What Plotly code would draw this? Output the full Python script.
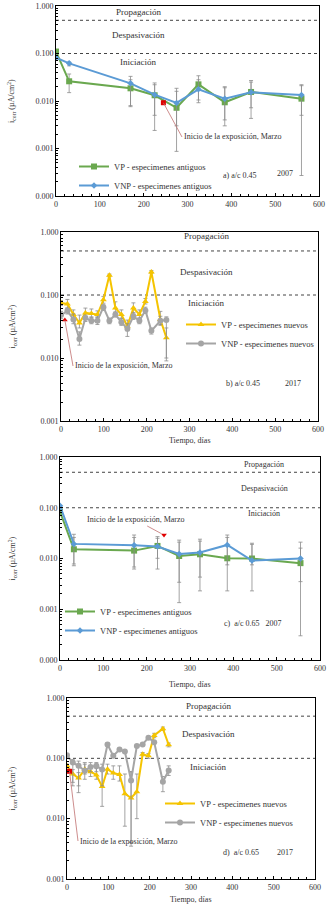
import plotly.graph_objects as go
import math

# ---------------- data ----------------
# Panel a) a/c 0.45 2007 (old specimens)
a_days = [0, 30, 170, 225, 275, 325, 385, 445, 560]
a_vp = [0.110, 0.026, 0.0185, 0.0132, 0.0072, 0.0224, 0.0094, 0.0155, 0.0112]
a_vp_hi = [0.110, 0.037, 0.033, 0.024, 0.0185, 0.034, 0.020, 0.027, 0.022]
a_vp_lo = [0.110, 0.015, 0.0076, 0.0024, 0.00087, 0.0092, 0.0030, 0.0043, 0.00027]
a_vnp = [0.082, 0.062, 0.0235, 0.0136, 0.0091, 0.0176, 0.0112, 0.0152, 0.0134]
a_vnp_hi = [0.082, 0.066, 0.028, 0.022, 0.016, 0.028, 0.019, 0.025, 0.021]
a_vnp_lo = [0.082, 0.055, 0.0080, 0.0050, 0.0030, 0.0105, 0.0040, 0.0072, 0.0050]
a_start = ([245], [0.0092])

# Panel b) a/c 0.45 2017 (new specimens)
b_days = [0, 15, 29, 43, 57, 71, 85, 99, 113, 127, 141, 155, 169, 183, 197, 211, 232, 246]
b_vp = [0.075, 0.072, 0.049, 0.036, 0.052, 0.051, 0.049, 0.084, 0.205, 0.062, 0.049, 0.032,
        0.062, 0.049, 0.079, 0.232, 0.041, 0.021]
b_vp_hi = [0.082, 0.085, 0.058, 0.048, 0.062, 0.060, 0.056, 0.095, 0.215, 0.078, 0.058, 0.040,
           0.075, 0.058, 0.088, 0.245, 0.055, 0.030]
b_vp_lo = [0.068, 0.062, 0.043, 0.030, 0.045, 0.045, 0.044, 0.074, 0.195, 0.052, 0.043, 0.027,
           0.052, 0.043, 0.072, 0.220, 0.033, 0.009]
b_vnp = [0.048, 0.056, 0.041, 0.020, 0.043, 0.039, 0.039, 0.064, 0.039, 0.049, 0.037, 0.029,
         0.046, 0.039, 0.057, 0.027, 0.039, 0.040]
b_vnp_hi = [0.055, 0.062, 0.050, 0.026, 0.048, 0.044, 0.045, 0.070, 0.043, 0.054, 0.042, 0.035,
            0.052, 0.043, 0.064, 0.030, 0.046, 0.045]
b_vnp_lo = [0.042, 0.050, 0.035, 0.016, 0.038, 0.035, 0.034, 0.057, 0.035, 0.045, 0.033, 0.022,
            0.041, 0.035, 0.051, 0.024, 0.034, 0.010]
b_start = ([9], [0.040])

# Panel c) a/c 0.65 2007 (old specimens)
c_days = [0, 32, 171, 225, 275, 323, 386, 443, 555]
c_vp = [0.084, 0.0152, 0.0143, 0.0177, 0.0112, 0.0121, 0.0101, 0.0100, 0.0081]
c_vp_hi = [0.084, 0.030, 0.029, 0.027, 0.023, 0.024, 0.029, 0.020, 0.021]
c_vp_lo = [0.084, 0.0072, 0.0062, 0.0062, 0.00135, 0.0023, 0.0023, 0.0023, 0.0003]
c_vnp = [0.110, 0.0194, 0.0182, 0.0172, 0.0123, 0.0131, 0.0185, 0.0091, 0.0100]
c_vnp_hi = [0.110, 0.026, 0.026, 0.025, 0.021, 0.022, 0.026, 0.019, 0.016]
c_vnp_lo = [0.110, 0.0078, 0.0068, 0.0101, 0.0034, 0.0043, 0.0075, 0.0075, 0.0035]
c_start = ([240], [0.029])

# Panel d) a/c 0.65 2017 (new specimens)
d_days = [0, 14, 28, 43, 57, 71, 85, 98, 112, 127, 140, 155, 169, 183, 197, 211, 232, 246]
d_vp = [0.075, 0.055, 0.047, 0.066, 0.060, 0.053, 0.034, 0.066, 0.057, 0.054, 0.026, 0.022,
        0.028, 0.117, 0.110, 0.240, 0.310, 0.168]
d_vp_hi = [0.080, 0.065, 0.058, 0.080, 0.070, 0.068, 0.062, 0.080, 0.075, 0.075, 0.055, 0.060,
           0.055, 0.125, 0.120, 0.260, 0.330, 0.180]
d_vp_lo = [0.070, 0.040, 0.035, 0.055, 0.050, 0.045, 0.016, 0.055, 0.045, 0.042, 0.0075, 0.0035,
           0.010, 0.110, 0.100, 0.220, 0.290, 0.155]
d_vnp = [0.112, 0.085, 0.075, 0.062, 0.072, 0.075, 0.065, 0.170, 0.110, 0.140, 0.130, 0.043,
         0.160, 0.170, 0.220, 0.185, 0.041, 0.063]
d_vnp_hi = [0.120, 0.095, 0.090, 0.085, 0.085, 0.085, 0.080, 0.180, 0.115, 0.145, 0.135, 0.060,
            0.165, 0.175, 0.230, 0.190, 0.050, 0.075]
d_vnp_lo = [0.105, 0.035, 0.027, 0.045, 0.060, 0.060, 0.035, 0.160, 0.105, 0.135, 0.125, 0.004,
            0.155, 0.165, 0.210, 0.180, 0.028, 0.052]
d_start = ([6], [0.061])

thresholds = [0.5, 0.1]
x_range = [0, 600]

# ---------------- layout helpers ----------------
W, H = 327, 905
FONT = "Liberation Serif"
TXT = "#333333"


def px(x):
    return x / W


def py(y):
    return 1 - y / H


panels = [
    dict(key="a", days=a_days, vp=a_vp, vp_hi=a_vp_hi, vp_lo=a_vp_lo, vnp=a_vnp,
         vnp_hi=a_vnp_hi, vnp_lo=a_vnp_lo, start=a_start, yr=[-4, 0],
         box=(56, 319, 6, 196), old=True, xtitle=None,
         vp_name="VP - especimenes antiguos", vnp_name="VNP - especimenes antiguos",
         leg=(74, 152), start_sym="square", start_txt=(182, 137),
         zones=(138, 12, 35, 62), zsize=9,
         label=[("a) a/c 0.45", 240, 176), ("2007", 285, 173)]),
    dict(key="b", days=b_days, vp=b_vp, vp_hi=b_vp_hi, vp_lo=b_vp_lo, vnp=b_vnp,
         vnp_hi=b_vnp_hi, vnp_lo=b_vnp_lo, start=b_start, yr=[-3, 0],
         box=(61, 318, 232, 421), old=False, xtitle=440,
         vp_name="VP - especimenes nuevos", vnp_name="VNP - especimenes nuevos",
         leg=(181, 310), start_sym="triangle-up", start_txt=(73, 366),
         zones=(206, 236, 272, 303), zsize=9,
         label=[("b) a/c 0.45", 243, 383), ("2017", 293, 383)]),
    dict(key="c", days=c_days, vp=c_vp, vp_hi=c_vp_hi, vp_lo=c_vp_lo, vnp=c_vnp,
         vnp_hi=c_vnp_hi, vnp_lo=c_vnp_lo, start=c_start, yr=[-4, 0],
         box=(60, 320, 457, 660), old=True, xtitle=684,
         vp_name="VP - especimenes antiguos", vnp_name="VNP - especimenes antiguos",
         leg=(60, 597), start_sym="triangle-down", start_txt=(136, 520),
         zones=(264, 464, 488, 513), zsize=8,
         label=[("c)  a/c 0.65   2007", 253, 623)]),
    dict(key="d", days=d_days, vp=d_vp, vp_hi=d_vp_hi, vp_lo=d_vp_lo, vnp=d_vnp,
         vnp_hi=d_vnp_hi, vnp_lo=d_vnp_lo, start=d_start, yr=[-3, 0],
         box=(67, 315, 698, 879), old=False, xtitle=899,
         vp_name="VP - especimenes nuevos", vnp_name="VNP - especimenes nuevos",
         leg=(160, 789), start_sym="square", start_txt=(78, 841),
         zones=(208, 706, 734, 767), zsize=9,
         label=[("d)  a/c 0.65", 241, 852), ("2017", 285, 852)]),
]

fig = go.Figure()
annotations = []
layout = {}

for i, p in enumerate(panels):
    n = "" if i == 0 else str(i + 1)
    xa, ya = "x" + n, "y" + n
    leg = "legend" + n
    x0, x1, y0, y1 = p["box"]

    # threshold dashed lines
    for t in thresholds:
        fig.add_trace(go.Scatter(x=x_range, y=[t, t], mode="lines", xaxis=xa, yaxis=ya,
                                 line=dict(color="#444444", width=1, dash="dot"),
                                 showlegend=False, hoverinfo="skip"))

    if p["old"]:
        vp_col, vnp_col = "#6AA84F", "#5B9BD5"
        vp_sym, vnp_sym = "square", "diamond"
        vp_size, vnp_size = 6, 5
    else:
        vp_col, vnp_col = "#F5C400", "#A5A5A5"
        vp_sym, vnp_sym = "triangle-up", "circle"
        vp_size, vnp_size = 6, 6

    def err(v, hi, lo):
        return dict(type="data", symmetric=False,
                    array=[h - a for h, a in zip(hi, v)],
                    arrayminus=[a - l for a, l in zip(v, lo)],
                    color="#8C8C8C", thickness=0.8, width=2)

    fig.add_trace(go.Scatter(x=p["days"], y=p["vp"], name=p["vp_name"], mode="lines+markers",
                             xaxis=xa, yaxis=ya, legend=leg,
                             line=dict(color=vp_col, width=2),
                             marker=dict(symbol=vp_sym, size=vp_size, color=vp_col),
                             error_y=err(p["vp"], p["vp_hi"], p["vp_lo"])))
    fig.add_trace(go.Scatter(x=p["days"], y=p["vnp"], name=p["vnp_name"], mode="lines+markers",
                             xaxis=xa, yaxis=ya, legend=leg,
                             line=dict(color=vnp_col, width=2),
                             marker=dict(symbol=vnp_sym, size=vnp_size, color=vnp_col),
                             error_y=err(p["vnp"], p["vnp_hi"], p["vnp_lo"])))
    # start of exposure marker
    sx, sy = p["start"]
    fig.add_trace(go.Scatter(x=sx, y=sy, mode="markers", xaxis=xa, yaxis=ya,
                             marker=dict(symbol=p["start_sym"], size=5, color="#E00000"),
                             showlegend=False, hoverinfo="skip"))

    # axes
    axis_common = dict(showline=True, linecolor="black", linewidth=1, mirror=True,
                       showgrid=False, zeroline=False, automargin=False,
                       tickfont=dict(family=FONT, size=8, color=TXT))
    layout["xaxis" + n] = dict(axis_common, domain=[px(x0), px(x1)], anchor=ya,
                               range=x_range, tickmode="linear", tick0=0, dtick=100,
                               ticks="inside", ticklen=3, tickcolor="black",
                               minor=dict(ticks="inside", ticklen=2, dtick=20, tickcolor="black"))
    layout["yaxis" + n] = dict(axis_common, domain=[py(y1), py(y0)], anchor=xa,
                               type="log", range=p["yr"], dtick=1, tickformat=".3f",
                               ticks="inside", ticklen=3, tickcolor="black",
                               minor=dict(ticks="inside", ticklen=2, tickcolor="black"))
    # y title as rotated annotation
    annotations.append(dict(text="i<sub>corr</sub> (µA/cm<sup>2</sup>)", x=px(12),
                            y=py((y0 + y1) / 2), xref="paper", yref="paper", textangle=-90,
                            showarrow=False, xanchor="center", yanchor="middle",
                            font=dict(family=FONT, size=8, color=TXT)))
    if p["xtitle"]:
        annotations.append(dict(text="Tiempo, días", x=px((x0 + x1) / 2), y=py(p["xtitle"]),
                                xref="paper", yref="paper", showarrow=False,
                                xanchor="center", yanchor="middle",
                                font=dict(family=FONT, size=8, color=TXT)))

    lx, ly = p["leg"]
    layout[leg] = dict(x=px(lx), y=py(ly), xanchor="left", yanchor="top",
                       bgcolor="rgba(0,0,0,0)", itemwidth=30, tracegroupgap=0,
                       font=dict(family=FONT, size=8.5, color=TXT))

    # zone labels
    zx, zp, zd, zi = p["zones"]
    for txt, yy in (("Propagación", zp), ("Despasivación", zd), ("Iniciación", zi)):
        annotations.append(dict(text=txt, x=px(zx), y=py(yy), xref="paper", yref="paper",
                                showarrow=False, xanchor="center", yanchor="middle",
                                font=dict(family=FONT, size=p["zsize"], color=TXT)))
    for txt, lxx, lyy in p["label"]:
        annotations.append(dict(text=txt, x=px(lxx), y=py(lyy), xref="paper", yref="paper",
                                showarrow=False, xanchor="center", yanchor="middle",
                                font=dict(family=FONT, size=8, color=TXT)))

    # "Inicio de la exposición" annotation with leader line to the red marker
    tx, ty = p["start_txt"]
    xr = x1 - x0
    sx_px = x0 + sx[0] / 600 * xr
    yfrac = (math.log10(sy[0]) - p["yr"][0]) / (p["yr"][1] - p["yr"][0])
    sy_px = y1 - yfrac * (y1 - y0)
    ann = dict(text="Inicio de la exposición, Marzo", x=sx[0], y=math.log10(sy[0]),
               xref=xa, yref=ya, showarrow=True, arrowhead=0, arrowwidth=0.8,
               arrowcolor="#C07070", ax=tx - sx_px, ay=ty - sy_px,
               font=dict(family=FONT, size=8, color=TXT))
    if p["key"] == "c":
        ann["standoff"] = 3
    else:
        ann["xanchor"] = "left"
    annotations.append(ann)

fig.update_layout(**layout)
fig.update_layout(width=W, height=H, margin=dict(l=0, r=0, t=0, b=0, autoexpand=False),
                  paper_bgcolor="white", plot_bgcolor="white",
                  annotations=annotations, showlegend=True,
                  font=dict(family=FONT, color=TXT))

fig.write_html("out.html")
